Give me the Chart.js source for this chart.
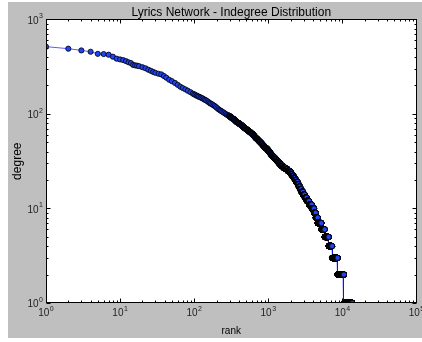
<!DOCTYPE html>
<html lang="en">
<head>
<meta charset="UTF-8">
<title>Lyrics Network - Indegree Distribution</title>
<script src="https://cdn.jsdelivr.net/npm/chart.js"></script>
<style>
    html, body { margin: 0; padding: 0; background: #fff; }
    canvas { display: block; }
</style>
</head>
<body>
<canvas id="rankChart" width="422" height="342"></canvas>
<script>
    // head of the rank plot: read points (rank, in-degree)
    var headRank = [1, 2, 3, 4, 5, 6, 7, 8, 9, 10, 11, 12, 13, 14, 15, 16, 17, 18, 20, 22, 24, 26, 28, 30,
        33, 36, 39, 42, 46, 50, 55, 60, 65, 70, 76, 82, 89, 96, 100, 104, 108, 112, 116, 121, 125, 130,
        135, 140, 145, 151, 157, 163, 169, 176, 183, 190, 197, 205, 213, 221, 229, 238, 247, 256, 266,
        276, 286, 297];
    var headDegree = [515, 490, 470, 455, 432, 430, 423, 403, 384, 377, 371, 362, 352, 345, 330, 326, 324, 320, 312, 304, 294, 286, 278, 272,
        266, 262, 252, 242, 230, 222, 213, 203, 194, 188, 182, 176, 170, 164, 161, 159, 156, 154, 152, 150, 148, 146,
        143, 141, 139, 136, 133, 130, 128, 126, 123, 121, 118, 115, 112, 110, 108, 106, 104, 102, 100,
        98, 97, 96];

    // rest of the plot as runs: ranks (previous last rank + 1) .. lastRank all have that degree
    var runDegree = [95, 94, 93, 92, 91, 90, 89, 88, 87, 86, 85, 84, 83, 82, 81, 80, 79, 78, 77, 76,
        75, 74, 73, 72, 71, 70, 69, 68, 67, 66, 65, 64, 63, 62, 61, 60, 59, 58, 57, 56,
        55, 54, 53, 52, 51, 50, 49, 48, 47, 46, 45, 44, 43, 42, 41, 40, 39, 38, 37, 36,
        35, 34, 33, 32, 31, 30, 29, 28, 27, 26, 25, 24, 23, 22, 21, 20, 19, 18, 17, 16,
        15, 14, 13, 12, 11, 10, 9, 8, 7, 6, 5, 4, 3, 2, 1];
    var runLastRank = [300, 305, 311, 316, 322, 328, 336, 345, 350, 355, 361, 366, 372, 381, 390, 400, 410, 420, 430, 438,
        446, 455, 463, 474, 486, 498, 510, 523, 536, 549, 563, 577, 591, 606, 621, 632, 644, 656, 668, 685,
        702, 719, 737, 755, 774, 793, 813, 833, 854, 875, 896, 930, 964, 988, 1012, 1037, 1063, 1089, 1116, 1158,
        1201, 1246, 1292, 1340, 1390, 1442, 1495, 1590, 1700, 1820, 1950, 2030, 2110, 2200, 2300, 2390, 2490, 2570, 2680, 2790,
        2940, 3100, 3300, 3550, 3850, 4140, 4360, 4640, 5200, 5770, 6530, 7260, 8610, 10480, 13600];

    var xTicks = [1, 10, 100, 1000, 10000, 100000];
    var yTicks = [1, 10, 100, 1000];

    var points = [];
    for (var i = 0; i < headRank.length; i++) {
        points.push({ x: headRank[i], y: headDegree[i] });
    }
    var prev = headRank[headRank.length - 1];
    for (var j = 0; j < runDegree.length; j++) {
        for (var r = prev + 1; r <= runLastRank[j]; r++) {
            points.push({ x: r, y: runDegree[j] });
        }
        prev = runLastRank[j];
    }

    var FONT = '"Liberation Sans", Arial, sans-serif';

    // grey figure, white axes
    var background = {
        id: 'background',
        beforeDraw: function (chart) {
            var ctx = chart.ctx, a = chart.chartArea;
            ctx.save();
            ctx.fillStyle = '#fff';
            ctx.fillRect(0, 0, chart.width, chart.height);
            ctx.fillStyle = '#bfbfbf';
            ctx.fillRect(8, 2, chart.width - 8, chart.height - 6);
            ctx.fillStyle = '#fff';
            ctx.fillRect(a.left, a.top, a.right - a.left, a.bottom - a.top);
            ctx.restore();
        }
    };

    // draws "10" with a raised exponent, like the mathtext labels
    function powText(ctx, v, x, y, align) {
        var e = String(Math.round(Math.log10(v)));
        ctx.font = '10px ' + FONT;
        var wb = ctx.measureText('10').width;
        ctx.font = '7px ' + FONT;
        var we = ctx.measureText(e).width;
        var x0 = align === 'right' ? x - wb - we - 0.5 : x - (wb + we + 0.5) / 2;
        ctx.textAlign = 'left';
        ctx.textBaseline = 'middle';
        ctx.font = '10px ' + FONT;
        ctx.fillText('10', x0, y);
        ctx.font = '7px ' + FONT;
        ctx.fillText(e, x0 + wb + 0.5, y - 4.5);
    }

    // frame with inward major/minor ticks on all four sides, plus tick labels
    var frameTicks = {
        id: 'frameTicks',
        afterDatasetsDraw: function (chart) {
            var ctx = chart.ctx, a = chart.chartArea;
            var xs = chart.scales.x, ys = chart.scales.y;
            ctx.save();
            ctx.strokeStyle = '#000';
            ctx.lineWidth = 1;
            var L = Math.round(a.left) + 0.5, R = Math.round(a.right) - 0.5;
            var T = Math.round(a.top) + 0.5, B = Math.round(a.bottom) - 0.5;
            ctx.strokeRect(L, T, R - L, B - T);
            ctx.beginPath();
            for (var k = 0; k < 5; k++) {
                for (var m = 1; m <= 9; m++) {
                    var px = Math.round(xs.getPixelForValue(m * Math.pow(10, k))) + 0.5;
                    var len = m === 1 ? 4 : 2;
                    ctx.moveTo(px, B); ctx.lineTo(px, B - len);
                    ctx.moveTo(px, T); ctx.lineTo(px, T + len);
                }
            }
            for (var k2 = 0; k2 < 3; k2++) {
                for (var m2 = 1; m2 <= 9; m2++) {
                    var py = Math.round(ys.getPixelForValue(m2 * Math.pow(10, k2))) + 0.5;
                    var len2 = m2 === 1 ? 4 : 2;
                    ctx.moveTo(L, py); ctx.lineTo(L + len2, py);
                    ctx.moveTo(R, py); ctx.lineTo(R - len2, py);
                }
            }
            ctx.stroke();

            ctx.fillStyle = '#222';
            xTicks.forEach(function (v) {
                powText(ctx, v, xs.getPixelForValue(v), a.bottom + 10.5, 'center');
            });
            yTicks.forEach(function (v) {
                powText(ctx, v, a.left - 3, ys.getPixelForValue(v) + 1.5, 'right');
            });
            ctx.restore();
        }
    };

    Chart.defaults.font.family = FONT;
    Chart.defaults.color = '#000';

    var ctx = document.getElementById('rankChart').getContext('2d');
    var rankChart = new Chart(ctx, {
        type: 'scatter',
        data: {
            datasets: [{
                data: points,
                showLine: true,
                borderColor: 'rgba(0, 0, 255, 0.65)',
                borderWidth: 1,
                pointRadius: 2.6,
                pointBackgroundColor: '#2244f2',
                pointBorderColor: '#000',
                pointBorderWidth: 0.8,
                clip: 0
            }]
        },
        options: {
            responsive: false,
            animation: false,
            events: [],
            layout: { padding: { left: 8, right: 5.5, top: 0, bottom: 0 } },
            plugins: {
                legend: { display: false },
                tooltip: { enabled: false },
                title: {
                    display: true,
                    fullSize: false,
                    text: 'Lyrics Network - Indegree Distribution',
                    font: { size: 12, weight: 'normal' },
                    padding: { top: 5, bottom: 0 }
                }
            },
            scales: {
                x: {
                    type: 'logarithmic',
                    min: 1,
                    max: 100000,
                    grid: { display: false, drawTicks: false },
                    border: { display: false },
                    title: { display: true, text: 'rank', font: { size: 10 }, padding: { top: 0, bottom: 5 } },
                    ticks: { display: false },
                    afterFit: function (s) { s.height = 39; s.paddingLeft = 0; s.paddingRight = 0; }
                },
                y: {
                    type: 'logarithmic',
                    min: 1,
                    max: 1000,
                    grid: { display: false, drawTicks: false },
                    border: { display: false },
                    title: { display: true, text: 'degree', font: { size: 12 }, padding: { top: 2, bottom: 0 } },
                    ticks: { display: false },
                    afterFit: function (s) { s.width = 38; s.paddingTop = 0; s.paddingBottom = 0; }
                }
            }
        },
        plugins: [background, frameTicks]
    });
</script>
</body>
</html>
